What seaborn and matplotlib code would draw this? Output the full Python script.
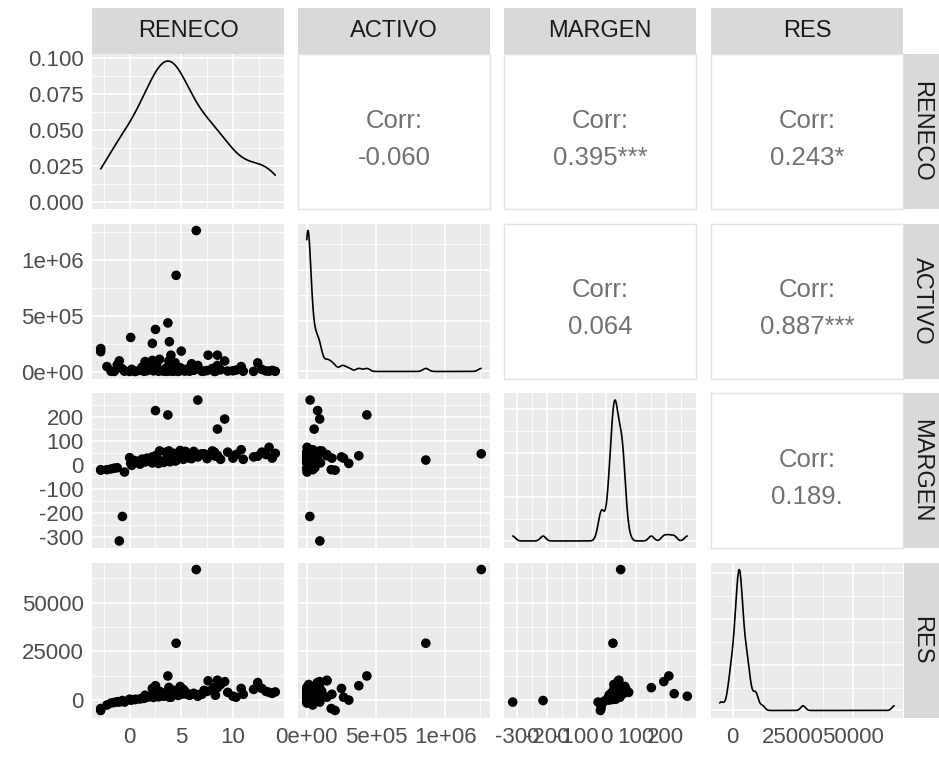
import numpy as np
import pandas as pd
import matplotlib
matplotlib.use("Agg")
import matplotlib.pyplot as plt
import seaborn as sns
from matplotlib.ticker import FixedLocator, MaxNLocator, AutoMinorLocator

# ---------------- data ----------------
variables = ["RENECO", "ACTIVO", "MARGEN", "RES"]

reneco = [6.45, 4.5, 3.7, 2.5, 3.85, 0.1, 2.2, -2.8, -2.8, 5.0,
          4.0, 7.6, 8.5, 12.4, 6.6, 2.5, 9.2, 8.5, -0.7, -1.0,
          -1.8, -2.2, -1.5, -1.2, -0.5, 4.8, 0.0, 0.2, 4.4, 0.6,
          5.4, 1.0, 6.0, 1.4, 1.5, 7.2, 1.9, 8.2, 2.2, 2.3,
          2.5, 2.6, 2.8, 2.9, 0.5, 3.1, 1.2, 3.3, 1.7, 3.5,
          3.6, 3.8, 3.9, 4.0, 4.2, 4.3, 4.5, 4.7, 4.9, 5.2,
          5.5, 5.8, 6.2, 6.6, 7.0, 7.5, 8.0, 8.3, 8.8, 9.5,
          10.0, 10.3, 10.8, 11.0, 12.0, 12.8, 13.2, 13.5, 13.8, 14.1]

activo = [1260000, 860000, 435000, 377000, 267000, 305000, 252000, 206000, 178000, 183000,
          147000, 147000, 147000, 78000, 26000, 80000, 95000, 55000, 24000, 96000,
          3000, 45000, 2000, 60000, 4000, 8000, 1500, 20000, 80000, 2500,
          6000, 12000, 70000, 3000, 90000, 5000, 25000, 2000, 100000, 7000,
          15000, 65000, 3500, 110000, 1800, 10000, 40000, 4500, 9000, 30000,
          2800, 95000, 5500, 18000, 3200, 50000, 6500, 2200, 35000, 8000,
          22000, 4000, 12000, 55000, 3000, 9500, 28000, 2600, 16000, 5000,
          7500, 14000, 45000, 3800, 2400, 20000, 6000, 4200, 11000, 3000]

margen = [48, 22, 210, 40, 30, 8, 35, -20, -18, 30,
          45, 40, 42, 38, 272, 228, 193, 151, -213, -315,
          -15, -18, -12, -10, -28, 52, 32, 0, 18, 12,
          58, 5, 28, 20, 14, 48, 25, 55, 10, 22,
          15, 36, 8, 60, 20, 18, 26, 12, 30, 55,
          24, 60, 15, 45, 28, 50, 20, 36, 62, 25,
          50, 30, 58, 35, 48, 28, 60, 38, 25, 55,
          30, 45, 65, 25, 35, 55, 45, 75, 30, 50]

res = [67000, 29200, 12400, 7400, 1500, 0, 6000, -5300, -4300, 3000,
       1500, 9900, 10200, 9000, 2000, 3300, 9500, 6400, -200, -1000,
       -1500, -2500, -1200, -800, -1000, 3000, 500, 200, 3800, 400,
       4200, 600, 3000, 900, 2500, 5000, 1800, 6500, 2800, 1400,
       2000, 3500, 1700, 4500, 300, 2600, 1000, 2000, 1500, 3800,
       2200, 6500, 2500, 3500, 2800, 5000, 4000, 2400, 7000, 5500,
       3000, 2500, 3500, 2800, 3000, 4500, 5500, 2500, 8000, 4000,
       2000, 1500, 6000, 3000, 5500, 6000, 4500, 4000, 3500, 4200]

corr_labels = ["-0.060", "0.395***", "0.243*", "0.064", "0.887***", "0.189."]

major_ticks = {
    "RENECO": [0, 5, 10],
    "ACTIVO": [0, 5e5, 1e6],
    "MARGEN": [-300, -200, -100, 0, 100, 200],
    "RES": [0, 25000, 50000],
}
tick_labels = {
    "RENECO": ["0", "5", "10"],
    "ACTIVO": ["0e+00", "5e+05", "1e+06"],
    "MARGEN": ["-300", "-200", "-100", "0", "100", "200"],
    "RES": ["0", "25000", "50000"],
}
dens_ticks = [0.0, 0.025, 0.05, 0.075, 0.1]
dens_labels = ["0.000", "0.025", "0.050", "0.075", "0.100"]

df = pd.DataFrame({"RENECO": reneco, "ACTIVO": activo, "MARGEN": margen, "RES": res})

# ---------------- styling ----------------
sns.set_theme(style="white")
plt.rcParams["font.family"] = ["Liberation Sans", "DejaVu Sans"]

W, H = 939, 757
fig = plt.figure(figsize=(W / 100, H / 100), dpi=100)
fig.patch.set_facecolor("white")

col_left = [92, 298, 504, 711]
panel_w = 192
row_top = [54, 223.5, 393, 562.5]
panel_h = 155

PANEL_BG = "#EBEBEB"
STRIP_BG = "#D9D9D9"
TICK_COL = "#4D4D4D"
FS = 16
STRIP_FS = 17
CORR_FS = 18.5


def frac_rect(x, y, w, h):
    return [x / W, (H - y - h) / H, w / W, h / H]


def limits(v):
    lo, hi = float(np.min(df[v])), float(np.max(df[v]))
    pad = 0.05 * (hi - lo)
    return lo - pad, hi + pad


def minor_from(majors):
    step = (majors[1] - majors[0]) / 2.0
    return [m + step for m in [majors[0] - 2 * step] + list(majors)]


def style_grid(ax):
    ax.set_facecolor(PANEL_BG)
    for s in ax.spines.values():
        s.set_visible(False)
    ax.grid(which="major", color="white", linewidth=1.2)
    ax.grid(which="minor", color="white", linewidth=0.6)
    ax.set_axisbelow(True)
    ax.tick_params(which="both", length=0, labelbottom=False, labelleft=False)


def nrd0(x):
    x = np.asarray(x, dtype=float)
    sd = x.std(ddof=1)
    iqr = np.subtract(*np.percentile(x, [75, 25]))
    lo = min(sd, iqr / 1.34) if iqr > 0 else sd
    return 0.9 * lo * len(x) ** (-0.2), sd


k = 0
for i, vy in enumerate(variables):
    for j, vx in enumerate(variables):
        ax = fig.add_axes(frac_rect(col_left[j], row_top[i], panel_w, panel_h))
        if i < j:
            ax.set_facecolor("white")
            for s in ax.spines.values():
                s.set_color("#E3E3E3")
                s.set_linewidth(1.0)
            ax.set_xticks([])
            ax.set_yticks([])
            ax.set_xlim(0, 1)
            ax.set_ylim(0, 1)
            ax.text(0.5, 0.45, "Corr:\n" + corr_labels[k], ha="center", va="center",
                    fontsize=CORR_FS, color="#727272", linespacing=1.7)
            k += 1
            continue

        style_grid(ax)
        ax.set_xlim(*limits(vx))
        ax.xaxis.set_major_locator(FixedLocator(major_ticks[vx]))
        ax.xaxis.set_minor_locator(FixedLocator(minor_from(major_ticks[vx])))

        if i == j:
            bw, sd = nrd0(df[vx])
            sns.kdeplot(data=df, x=vx, ax=ax, bw_method=bw / sd, cut=0, gridsize=512,
                        color="black", linewidth=1.2)
            ymax = max(ln.get_ydata().max() for ln in ax.lines)
            ax.set_ylim(-0.05 * ymax, 1.05 * ymax)
            if i == 0:
                ax.yaxis.set_major_locator(FixedLocator(dens_ticks))
                ax.yaxis.set_minor_locator(FixedLocator(minor_from(dens_ticks)))
            else:
                ax.yaxis.set_major_locator(MaxNLocator(nbins=4))
                ax.yaxis.set_minor_locator(AutoMinorLocator(2))
        else:
            sns.scatterplot(data=df, x=vx, y=vy, ax=ax, color="black", s=48,
                            linewidth=0, edgecolor="none")
            ax.set_ylim(*limits(vy))
            ax.yaxis.set_major_locator(FixedLocator(major_ticks[vy]))
            ax.yaxis.set_minor_locator(FixedLocator(minor_from(major_ticks[vy])))
        ax.set_xlabel("")
        ax.set_ylabel("")

        if j == 0:
            ax.tick_params(axis="y", which="major", length=4, width=1.0, color="#333333",
                           labelleft=True, labelsize=FS, labelcolor=TICK_COL, pad=2)
            if i == 0:
                ax.set_yticklabels(dens_labels)
            else:
                ax.set_yticklabels(tick_labels[vy])
        if i == 3:
            ax.tick_params(axis="x", which="major", length=4, width=1.0, color="#333333",
                           labelbottom=True, labelsize=FS, labelcolor=TICK_COL, pad=3)
            ax.set_xticklabels(tick_labels[vx])

# strips on top
for j, v in enumerate(variables):
    sax = fig.add_axes(frac_rect(col_left[j], 8, panel_w, 46))
    sax.set_facecolor(STRIP_BG)
    sax.set_xticks([]); sax.set_yticks([])
    for s in sax.spines.values():
        s.set_visible(False)
    sax.text(0.5, 0.5, v, ha="center", va="center", fontsize=STRIP_FS, color="#1A1A1A")

# strips on right
for i, v in enumerate(variables):
    sax = fig.add_axes(frac_rect(904, row_top[i], 35, panel_h))
    sax.set_facecolor(STRIP_BG)
    sax.set_xticks([]); sax.set_yticks([])
    for s in sax.spines.values():
        s.set_visible(False)
    sax.text(0.5, 0.5, v, ha="center", va="center", fontsize=STRIP_FS, color="#1A1A1A",
             rotation=-90)

fig.savefig("out.png", dpi=100, facecolor="white")
